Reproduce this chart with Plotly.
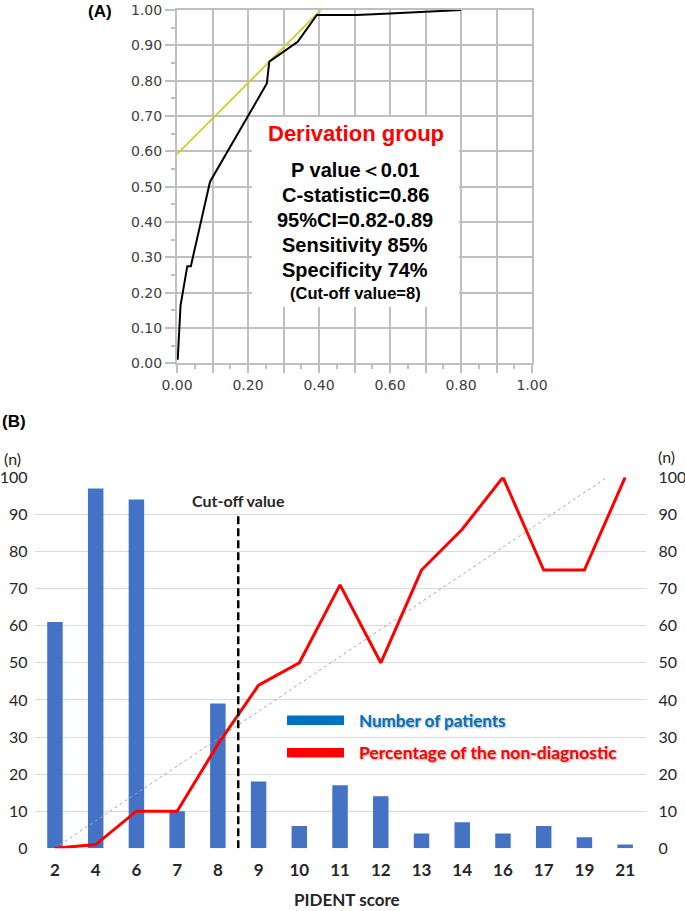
import plotly.graph_objects as go
import numpy as np

W, H = 685, 911

def px(x):
    return x / W

def py(y):
    return 1 - y / H

# ---------------- Panel A data (ROC curve) ----------------
roc_fpr = [0.002, 0.006, 0.010, 0.029, 0.039, 0.093, 0.253, 0.260, 0.340, 0.394, 0.506, 0.600, 0.703, 0.800]
roc_tpr = [0.010, 0.112, 0.164, 0.275, 0.275, 0.514, 0.792, 0.854, 0.910, 0.986, 0.986, 0.990, 0.995, 1.000]
tangent_fpr = [0.0, 0.405]
tangent_tpr = [0.592, 1.0]

a_tick_vals = [0.0, 0.1, 0.2, 0.3, 0.4, 0.5, 0.6, 0.7, 0.8, 0.9, 1.0]
a_ytick_text = ["0.00", "0.10", "0.20", "0.30", "0.40", "0.50", "0.60", "0.70", "0.80", "0.90", "1.00"]
a_xtick_text = ["0.00", "", "0.20", "", "0.40", "", "0.60", "", "0.80", "", "1.00"]

box_title = "Derivation group"
box_lines = ["P value\uff1c0.01", "C-statistic=0.86", "95%CI=0.82-0.89", "Sensitivity 85%", "Specificity 74%"]
box_note = "(Cut-off value=8)"

# ---------------- Panel B data ----------------
categories = ["2", "4", "6", "7", "8", "9", "10", "11", "12", "13", "14", "16", "17", "19", "21"]
patients = [61, 97, 94, 10, 39, 18, 6, 17, 14, 4, 7, 4, 6, 3, 1]
pct_nondiag = [0, 1, 10, 10, 28, 44, 50, 71, 50, 75, 86, 100, 75, 75, 100]
b_tick_vals = [0, 10, 20, 30, 40, 50, 60, 70, 80, 90, 100]
cutoff_position = 4.5   # between scores 8 and 9
cutoff_top = 90

# linear trend of the percentage series (as the spreadsheet trendline)
idx = np.arange(len(categories))
slope, intercept = np.polyfit(idx, pct_nondiag, 1)
trend_vals = list(slope * idx + intercept)

fig = go.Figure()

# Panel A traces
fig.add_trace(go.Scatter(x=tangent_fpr, y=tangent_tpr, mode="lines",
                         line=dict(color="#D2CA2A", width=1.8),
                         xaxis="x", yaxis="y", showlegend=False, hoverinfo="skip"))
fig.add_trace(go.Scatter(x=roc_fpr, y=roc_tpr, mode="lines",
                         line=dict(color="#000000", width=2),
                         xaxis="x", yaxis="y", showlegend=False))

# Panel B traces
fig.add_trace(go.Bar(x=categories, y=patients, marker=dict(color="#4472C4", line=dict(width=0)),
                     xaxis="x2", yaxis="y2", showlegend=False, name="Number of patients"))
fig.add_trace(go.Scatter(x=categories, y=trend_vals, mode="lines",
                         line=dict(color="#A6A6A6", width=1, dash="dot"),
                         xaxis="x2", yaxis="y3", showlegend=False, hoverinfo="skip"))
fig.add_trace(go.Scatter(x=categories, y=pct_nondiag, mode="lines",
                         line=dict(color="#FF0000", width=3),
                         xaxis="x2", yaxis="y3", showlegend=False,
                         name="Percentage of the non-diagnostic"))

grid_a = "#BFBFBF"
font_a = dict(family="DejaVu Sans, Verdana", size=14, color="#404040")
font_b = dict(family="Lato, Calibri", size=16, color="#262626")

fig.update_layout(
    width=W, height=H,
    margin=dict(l=0, r=0, t=0, b=0, autoexpand=False),
    paper_bgcolor="white", plot_bgcolor="white",
    bargap=0.62,
    xaxis=dict(domain=[px(177), px(532)], range=[0, 1], anchor="y", automargin=False,
               tickmode="array", tickvals=a_tick_vals, ticktext=a_xtick_text,
               showgrid=True, gridcolor=grid_a, gridwidth=2,
               showline=True, linecolor=grid_a, linewidth=2, mirror=True,
               ticks="outside", ticklen=8, tickcolor=grid_a, tickwidth=2,
               minor=dict(tickmode="linear", tick0=0, dtick=0.05, ticks="outside",
                          ticklen=4, tickcolor=grid_a, tickwidth=1.5, showgrid=False),
               tickfont=font_a, zeroline=False, fixedrange=True),
    yaxis=dict(domain=[py(363.3), py(10)], range=[0, 1], anchor="x", automargin=False,
               tickmode="array", tickvals=a_tick_vals, ticktext=a_ytick_text,
               showgrid=True, gridcolor=grid_a, gridwidth=2,
               showline=True, linecolor=grid_a, linewidth=2, mirror=True,
               ticks="outside", ticklen=10, tickcolor=grid_a, tickwidth=2,
               minor=dict(tickmode="linear", tick0=0, dtick=0.05, ticks="outside",
                          ticklen=4, tickcolor=grid_a, tickwidth=1.5, showgrid=False),
               tickfont=font_a, zeroline=False, fixedrange=True),
    xaxis2=dict(domain=[px(34.6), px(645.5)], anchor="y2", type="category", automargin=False,
                range=[-0.5, len(categories) - 0.5],
                showgrid=False, showline=False, ticks="",
                tickfont=dict(family="Lato, Calibri", size=17, color="#262626", weight="bold"),
                ticklabelstandoff=10, zeroline=False),
    yaxis2=dict(domain=[py(848.3), py(477.3)], range=[0, 100], anchor="x2", automargin=False,
                tickmode="array", tickvals=b_tick_vals,
                showgrid=True, gridcolor="#D9D9D9", gridwidth=1,
                showline=False, ticks="", zeroline=False,
                tickfont=font_b, ticklabelstandoff=6),
    yaxis3=dict(range=[0, 100], overlaying="y2", side="right", anchor="x2", automargin=False,
                tickmode="array", tickvals=b_tick_vals,
                showgrid=False, showline=False, ticks="", zeroline=False,
                tickfont=font_b, ticklabelstandoff=12),
)

shapes = []
# white text box in panel A
shapes.append(dict(type="rect", xref="paper", yref="paper",
                   x0=px(252), x1=px(459), y0=py(307), y1=py(117),
                   fillcolor="white", line=dict(width=0), layer="above"))
# cut-off dashed line
shapes.append(dict(type="line", xref="x2", yref="y2",
                   x0=cutoff_position, x1=cutoff_position, y0=0, y1=cutoff_top,
                   line=dict(color="black", width=2.5, dash="8px,4px"), layer="above"))
# legend swatches
shapes.append(dict(type="rect", xref="paper", yref="paper",
                   x0=px(287), x1=px(344), y0=py(725), y1=py(715.5),
                   fillcolor="#0070C0", line=dict(width=0)))
shapes.append(dict(type="rect", xref="paper", yref="paper",
                   x0=px(287), x1=px(344), y0=py(757.5), y1=py(748),
                   fillcolor="#FF0000", line=dict(width=0)))
fig.update_layout(shapes=shapes)

arial_b = "Liberation Sans, Arial"
ann = []
ann.append(dict(text="<b>(A)</b>", x=px(100), y=py(12), xref="paper", yref="paper",
                showarrow=False, xanchor="center", yanchor="middle",
                font=dict(family=arial_b, size=17, color="black")))
ann.append(dict(text="<b>(B)</b>", x=px(0), y=py(421.5), xref="paper", yref="paper",
                showarrow=False, xanchor="left", yanchor="middle",
                font=dict(family=arial_b, size=17, color="black")))
ann.append(dict(text="<b>" + box_title + "</b>", x=px(356), y=py(134), xref="paper", yref="paper",
                showarrow=False, xanchor="center", yanchor="middle",
                font=dict(family=arial_b, size=22, color="#FF0000")))
line_ys = [170, 195, 220, 245, 270]
for t, yy in zip(box_lines, line_ys):
    ann.append(dict(text="<b>" + t + "</b>", x=px(355), y=py(yy), xref="paper", yref="paper",
                    showarrow=False, xanchor="center", yanchor="middle",
                    font=dict(family=arial_b, size=20, color="black")))
ann.append(dict(text="<b>" + box_note + "</b>", x=px(355), y=py(293), xref="paper", yref="paper",
                showarrow=False, xanchor="center", yanchor="middle",
                font=dict(family=arial_b, size=16.5, color="black")))

ann.append(dict(text="(n)", x=px(12), y=py(458), xref="paper", yref="paper",
                showarrow=False, xanchor="center", yanchor="middle", font=font_b))
ann.append(dict(text="(n)", x=px(666), y=py(456), xref="paper", yref="paper",
                showarrow=False, xanchor="center", yanchor="middle", font=font_b))
ann.append(dict(text="<b>Cut-off value</b>", x=px(239), y=py(500.5), xref="paper", yref="paper",
                showarrow=False, xanchor="center", yanchor="middle",
                font=dict(family="Lato, Calibri", size=16, color="#262626")))
ann.append(dict(text="<b>PIDENT score</b>", x=px(347), y=py(899), xref="paper", yref="paper",
                showarrow=False, xanchor="center", yanchor="middle",
                font=dict(family="Lato, Calibri", size=17, color="#262626")))
shadow = "1px 1px 2px rgba(0,0,0,0.35)"
ann.append(dict(text="<b>Number of patients</b>", x=px(357), y=py(720.5), xref="paper", yref="paper",
                showarrow=False, xanchor="left", yanchor="middle",
                font=dict(family="Lato, Calibri", size=17, color="#0070C0", shadow=shadow)))
ann.append(dict(text="<b>Percentage of the non-diagnostic</b>", x=px(357), y=py(752.5), xref="paper", yref="paper",
                showarrow=False, xanchor="left", yanchor="middle",
                font=dict(family="Lato, Calibri", size=17.5, color="#FF0000", shadow=shadow)))
fig.update_layout(annotations=ann)

# remove the default page margin so the figure fills the window
fig.write_html("out.html",
               config={"displayModeBar": False},
               post_script="document.body.style.margin='0px';document.body.style.overflow='hidden';")
